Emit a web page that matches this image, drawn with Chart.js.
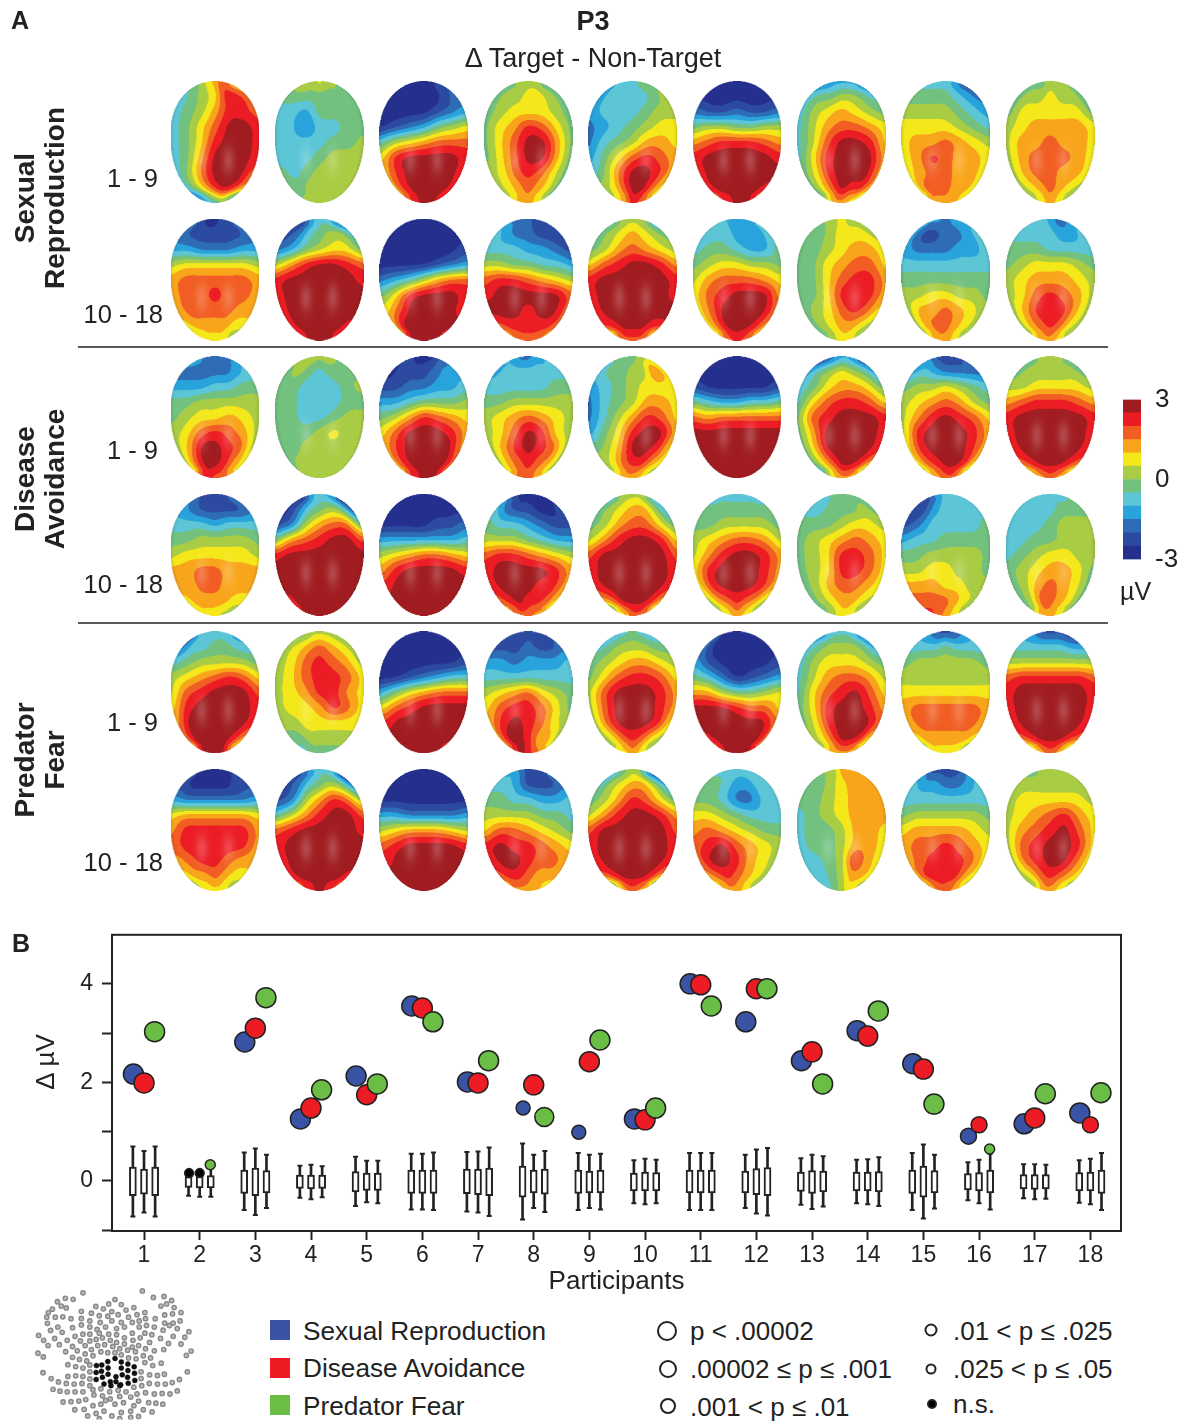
<!DOCTYPE html>
<html>
<head>
<meta charset="utf-8">
<title>P3</title>
<script src="https://cdn.jsdelivr.net/npm/chart.js@4"></script>
<style>
    html, body { margin: 0; padding: 0; background: #fff; }
    body { position: relative; width: 1177px; height: 1425px; overflow: hidden; font-family: "Liberation Sans", Arial, sans-serif; color: #222; }
    canvas { position: absolute; }
    .t { position: absolute; white-space: nowrap; line-height: 1; }
    .b { font-weight: bold; }
    .rot { transform: translate(-50%, -50%) rotate(-90deg); text-align: center; line-height: 30px; font-weight: bold; font-size: 28px; }
    .sw { position: absolute; width: 20px; height: 20px; }
    .dot { position: absolute; border-radius: 50%; box-sizing: border-box; border: 2px solid #222; transform: translate(-50%, -50%); background: #fff; }
</style>
</head>
<body>
<canvas id="topo" width="1177" height="920" style="left:0;top:0"></canvas>
<canvas id="bar" width="77" height="203" style="left:1100px;top:378px"></canvas>
<canvas id="stats" width="1177" height="385" style="left:0;top:912px"></canvas>
<canvas id="sensors" width="190" height="145" style="left:20px;top:1280px"></canvas>

<div class="t b" style="left:11px;top:8px;font-size:25px">A</div>
<div class="t b" style="left:12px;top:931px;font-size:25px">B</div>
<div class="t b" style="left:593px;top:8px;font-size:27px;transform:translateX(-50%)">P3</div>
<div class="t" style="left:593px;top:45px;font-size:27px;transform:translateX(-50%)">Δ Target - Non-Target</div>

<div class="t rot" style="left:40px;top:198px">Sexual<br>Reproduction</div>
<div class="t rot" style="left:40px;top:479px">Disease<br>Avoidance</div>
<div class="t rot" style="left:40px;top:760px">Predator<br>Fear</div>

<div class="t" style="right:1019px;top:166px;font-size:25.5px">1 - 9</div>
<div class="t" style="right:1014px;top:302px;font-size:25.5px">10 - 18</div>
<div class="t" style="right:1019px;top:438px;font-size:25.5px">1 - 9</div>
<div class="t" style="right:1014px;top:572px;font-size:25.5px">10 - 18</div>
<div class="t" style="right:1019px;top:710px;font-size:25.5px">1 - 9</div>
<div class="t" style="right:1014px;top:850px;font-size:25.5px">10 - 18</div>
<div class="t" style="left:1120px;top:579px;font-size:25px">µV</div>
<div class="t" style="left:45px;top:1062px;font-size:26px;transform:translate(-50%,-50%) rotate(-90deg)">Δ µV</div>

<div class="sw" style="left:270px;top:1320px;background:#3a53a4"></div>
<div class="sw" style="left:270px;top:1358px;background:#ed1c24"></div>
<div class="sw" style="left:270px;top:1395px;background:#6abd45"></div>
<div class="t" style="left:303px;top:1318px;font-size:26.2px">Sexual Reproduction</div>
<div class="t" style="left:303px;top:1355px;font-size:26.2px">Disease Avoidance</div>
<div class="t" style="left:303px;top:1393px;font-size:26.2px">Predator Fear</div>

<div class="dot" style="left:667px;top:1331px;width:20px;height:20px"></div>
<div class="dot" style="left:668px;top:1369px;width:18px;height:18px"></div>
<div class="dot" style="left:668px;top:1406px;width:16px;height:16px"></div>
<div class="dot" style="left:931px;top:1330px;width:13px;height:13px"></div>
<div class="dot" style="left:931px;top:1369px;width:11px;height:11px"></div>
<div class="dot" style="left:932px;top:1404px;width:10px;height:10px;background:#000"></div>
<div class="t" style="left:690px;top:1318px;font-size:26px">p &lt; .00002</div>
<div class="t" style="left:690px;top:1356px;font-size:26px">.00002 ≤ p ≤ .001</div>
<div class="t" style="left:690px;top:1394px;font-size:26px">.001 &lt; p ≤ .01</div>
<div class="t" style="left:953px;top:1318px;font-size:26px">.01 &lt; p ≤ .025</div>
<div class="t" style="left:953px;top:1356px;font-size:26px">.025 &lt; p ≤ .05</div>
<div class="t" style="left:953px;top:1391px;font-size:26px">n.s.</div>

<script>
// scalp maps: one string per head, 9 rows top to bottom, 7 columns left to right.
// each character is the colour bar band at that spot, 0 = -3 uV ... b = +3 uV
const sexualTop = [
    '5678987 4567aa9 4568aa9 4579bba 457abba 458bbba 469bbb9 468aba8 1134531',
    '6767665 5555555 4435555 4424455 4444556 4445666 5456666 5566666 5666666',
    '0000011 0000012 0000123 0123567 4678999 7abbbba 8abbbba 8abbbba 89abba9',
    '5566655 5667765 5677765 578a975 579bb85 579bb85 679a975 6789875 6788765',
    '3444555 3444456 3444566 2345677 2456887 3579a98 469bba8 679bb97 678a987',
    '1000001 0000000 2112112 5665566 89aaa98 abbbbba abbbbbb abbbbba 89abba8',
    '2233332 4556654 4678765 4689987 469bba7 47abbb8 57abbb8 579baa8 4688765',
    '4444322 5555432 6666543 7777654 7889876 78a9887 7899887 7999887 6888876',
    '5556665 5667665 5777775 6788887 6889887 6899987 6899887 6789876 5678765'
];
const sexualBottom = [
    '2100112 2111112 3322233 6777776 8999998 899a998 8999988 7888877 6677765',
    '1134421 1245664 2356775 68abba9 abbbbba abbbbbb abbbbbb abbbbba 9abbba9',
    '0000000 0000000 0000001 0000123 2346899 57abbba 79bbbba 8bbbbbb 8abbbb9',
    '3222111 4322111 4443321 6655443 9aa9876 abbbbb9 bbbabb9 9aaaaa9 7899987',
    '4566653 5678765 5689876 79abba8 abbbbba abbbbba abbbbbb aabbbaa 3899984',
    '4433334 4443334 4554335 5677665 6899987 79abbb8 79bbbb9 79bbba8 689a987',
    '5667665 5567776 5567887 5578997 5579aa8 557aaa8 5679a97 5678876 5567765',
    '3332333 3112234 3222334 4444444 5555555 6677665 6889876 6899876 6788765',
    '4443223 4444334 5554444 5677765 6788876 679a986 68aaa86 689a976 5788765'
];
const diseaseTop = [
    '4322223 2222234 3334455 5566666 5677876 679a986 68bba96 69bba87 79a9987',
    '6666665 5654555 5544456 5544455 5544566 5556766 5566666 5666666 6666666',
    '1100012 0111233 1122334 3345556 568a987 79bbba8 8abbbb8 8abbbb9 79abba8',
    '4322334 3444444 4444455 5566666 6789876 679ba76 68aba96 689a986 7899876',
    '4555666 4556697 3456777 2456887 2468a97 357abb8 568bba7 679aa87 6788765',
    '0000000 0000000 1000001 5433445 9899999 bbbbbbb bbbbbbb bbbbbbb abbbbba',
    '1123321 3567653 4578875 479aa97 59abbba 58bbbba 58bbbba 579bba8 2578873',
    '3211112 3432222 5667654 6789865 68aba97 6abbba8 7abbba8 79abba7 5789975',
    '4566654 5666665 6677776 89aaa98 abbbbba abbbbba abbbbba 9abbba9 5789874'
];
const diseaseBottom = [
    '2111123 3211112 4443444 5566665 6777776 8899888 8899888 7888877 6777665',
    '1134321 0245651 1268995 589abb9 abbbbbb bbbbbbb bbbbbbb abbbbbb abbbbba',
    '0000000 0000000 0000112 3333334 6789987 8abbbba abbbbbb bbbbbbb bbbbbbb',
    '2100000 4211001 5443211 6665433 9aa9876 abbbba8 abbbaa8 9abaa97 7899886',
    '3566654 5678863 5689975 68abba7 9bbbbb9 abbbbba abbbbba 89bbba8 2679985',
    '3444443 5555555 5566665 6789986 68abba8 7abbba8 7abbba8 689a986 5678765',
    '4455555 4455565 5556776 5678987 567aa97 567aa97 5689987 5678876 5567765',
    '1234444 1134444 1244445 3445555 5566665 6677665 8887766 9999876 aa98765',
    '4444445 4444555 4445666 4455666 4567766 5678875 5689875 5699875 5788765'
];
const predatorTop = [
    '2444442 2445544 4566665 6789a97 69abbb9 7abbbba 8bbbbba 9bbbba8 6abbb86',
    '5566665 6789876 679a986 679aa97 678aa87 6778a97 6677777 5566666 4455555',
    '0000000 0000000 0000001 0012344 3578999 79abbbb abbbbbb bbbbbbb bbbbbb9',
    '1111111 1112112 3323334 4444444 6789765 79aa975 8aba976 8bba886 89ba987',
    '3445443 4566655 5678876 579aa97 69bbba8 69bbba8 69bbba7 679a976 5778765',
    '2000001 2000000 3100001 5420123 8865567 bbba997 bbbbbb9 abbbbb9 8abbba8',
    '2344432 4566653 4677765 4689986 479ab97 57abba8 57abbb9 679bba7 5788875',
    '3211123 4445444 5666665 6666666 7777777 8999998 8999998 7888887 5777765',
    '3211110 4444433 6666666 9aaaaa9 abbbbba abbbbba abbbbba 9abbba9 4689864'
];
const predatorBottom = [
    '1000001 1000011 3222223 7888887 8aaaaa8 9aaaaa8 89aa988 7889877 5677765',
    '1234431 1245652 1268a96 468abb9 9abbbba abbbbbb abbbbbb abbbbba 89aba98',
    '0000000 0000000 0000000 3322223 6788876 9abbbba abbbbbb bbbbbbb bbbbbbb',
    '3321112 4431112 5544334 6666554 7998765 abaa987 abba998 9aa9888 7888876',
    '3456521 4678863 568a975 68abba8 9bbbbb9 abbbbba abbbbba 9abbba8 2589872',
    '4444444 5543344 5542244 7765444 8987655 9ab9876 9bba876 89a9876 6788765',
    '5668887 5567888 5567888 4567888 4556887 4556887 4456a87 4456887 4456765',
    '2111112 4332234 4444444 5666665 7888876 899a987 89aaa97 8aaaa87 6799875',
    '5566666 6666666 6777776 6789a87 689ab97 69abba7 69abb97 679a987 5688765'
];
const topoRows = [sexualTop, sexualBottom, diseaseTop, diseaseBottom, predatorTop, predatorBottom];

// colour bar, bottom to top
const bandEdges = [-3, -2.5, -2, -1.5, -1, -0.5, 0, 0.5, 1, 1.5, 2, 2.5, 3];
const bandColors = ['#25308e', '#2b4aa0', '#2f6cb6', '#29a3dc', '#5cc6d6', '#72c17f', '#a9cc45', '#f4e71a', '#f9a51b', '#f15d22', '#ec1c24', '#a01c20'];

// panel B
const participants = [1, 2, 3, 4, 5, 6, 7, 8, 9, 10, 11, 12, 13, 14, 15, 16, 17, 18];
const sexualDelta = [2.17, 0.16, 2.82, 1.26, 2.13, 3.55, 2.01, 1.48, 0.99, 1.26, 4.00, 3.23, 2.44, 3.05, 2.38, 0.91, 1.16, 1.38];
const diseaseDelta = [1.99, 0.16, 3.10, 1.48, 1.75, 3.51, 1.99, 1.95, 2.42, 1.24, 3.98, 3.90, 2.62, 2.94, 2.27, 1.14, 1.28, 1.14];
const predatorDelta = [3.03, 0.33, 3.72, 1.85, 1.97, 3.23, 2.44, 1.30, 2.86, 1.48, 3.55, 3.90, 1.97, 3.45, 1.56, 0.65, 1.77, 1.79];
// significance class: 0 p<.00002, 1, 2, 3, 4 .025<p<=.05, 5 n.s.
const sexualSig = [0, 5, 0, 0, 0, 0, 0, 3, 3, 0, 0, 0, 0, 0, 0, 2, 0, 0];
const diseaseSig = [0, 5, 0, 0, 0, 0, 0, 0, 0, 0, 0, 0, 0, 0, 0, 2, 0, 2];
const predatorSig = [0, 4, 0, 0, 0, 0, 0, 1, 0, 0, 0, 0, 0, 0, 0, 4, 0, 0];
const sigRadius = [10, 9.5, 8, 7, 5, 4.5];

// permutation distributions: whisker low, box low, box high, whisker high
const sexualLow = [-.72, -.30, -.59, -.34, -.51, -.58, -.62, -.78, -.59, -.45, -.59, -.55, -.48, -.45, -.59, -.39, -.35, -.44];
const sexualQ1 = [-.30, -.13, -.25, -.15, -.22, -.25, -.26, -.33, -.25, -.20, -.24, -.24, -.21, -.20, -.25, -.18, -.16, -.20];
const sexualQ3 = [.28, .09, .22, .12, .19, .22, .24, .30, .22, .16, .22, .20, .18, .18, .22, .15, .13, .17];
const sexualHigh = [.70, .16, .58, .31, .49, .55, .59, .76, .57, .42, .57, .53, .46, .43, .57, .38, .34, .42];
const diseaseLow = [-.64, -.32, -.69, -.37, -.43, -.58, -.64, -.55, -.55, -.47, -.59, -.66, -.57, -.47, -.76, -.45, -.37, -.47];
const diseaseQ1 = [-.27, -.14, -.30, -.16, -.19, -.25, -.28, -.24, -.24, -.20, -.24, -.28, -.25, -.20, -.33, -.20, -.17, -.20];
const diseaseQ3 = [.24, .12, .26, .12, .16, .22, .24, .22, .20, .18, .22, .25, .21, .18, .30, .17, .13, .18];
const diseaseHigh = [.61, .16, .66, .33, .41, .55, .60, .53, .53, .45, .57, .64, .53, .44, .74, .43, .34, .45];
const predatorLow = [-.72, -.32, -.55, -.33, -.45, -.59, -.71, -.63, -.58, -.45, -.59, -.70, -.52, -.51, -.56, -.58, -.36, -.59];
const predatorQ1 = [-.30, -.14, -.24, -.15, -.19, -.25, -.30, -.27, -.24, -.20, -.24, -.30, -.22, -.22, -.24, -.24, -.16, -.25];
const predatorQ3 = [.28, .11, .21, .12, .16, .22, .26, .24, .22, .17, .22, .27, .20, .19, .21, .22, .13, .22];
const predatorHigh = [.70, .30, .53, .30, .41, .58, .68, .61, .55, .43, .57, .67, .50, .48, .53, .55, .33, .57];

// electrode layout
const greyElectrodes = [[183,24],[372,18],[407,39],[441,36],[127,42],[152,45],[102,53],[465,49],[114,67],[130,73],[86,77],[431,67],[449,60],[473,72],[285,46],[265,60],[305,62],[224,68],[248,76],[178,84],[320,80],[345,72],[275,85],[380,88],[73,88],[443,96],[468,92],[495,88],[68,103],[95,103],[119,102],[145,108],[178,107],[210,90],[235,98],[262,100],[295,95],[328,103],[355,95],[413,108],[443,122],[470,122],[492,115],[70,123],[103,135],[80,146],[117,152],[150,137],[178,128],[205,115],[238,120],[275,115],[305,120],[340,120],[362,115],[382,108],[410,135],[458,130],[483,140],[520,150],[42,162],[58,178],[93,172],[72,195],[108,192],[133,178],[158,165],[183,158],[205,135],[228,143],[255,135],[290,140],[315,135],[362,135],[385,130],[402,160],[438,145],[470,165],[507,168],[40,220],[57,232],[128,215],[150,198],[175,180],[205,158],[235,155],[265,158],[290,160],[315,170],[340,155],[380,155],[430,172],[455,188],[495,190],[527,213],[512,227],[205,180],[190,195],[225,175],[245,170],[270,178],[290,185],[315,190],[342,178],[365,170],[395,185],[440,208],[410,212],[382,205],[360,195],[340,200],[165,212],[190,222],[210,208],[230,195],[252,192],[278,198],[300,205],[325,210],[350,215],[375,228],[398,235],[432,252],[405,260],[380,250],[150,233],[172,240],[195,245],[215,228],[240,215],[262,218],[285,218],[305,225],[328,235],[352,238],[135,257],[160,263],[183,268],[205,258],[56,283],[515,280],[82,302],[490,305],[105,313],[130,318],[155,320],[180,318],[135,295],[160,293],[183,295],[205,280],[205,303],[205,325],[368,280],[395,290],[420,292],[442,288],[368,302],[394,318],[420,320],[445,320],[467,315],[370,325],[345,330],[88,337],[110,343],[133,345],[158,345],[183,345],[215,338],[240,335],[268,345],[295,340],[320,345],[355,352],[382,348],[410,352],[435,350],[460,352],[483,342],[120,378],[145,377],[170,375],[192,370],[218,355],[245,358],[270,368],[300,360],[335,362],[360,375],[392,380],[415,382],[437,385],[157,403],[187,402],[215,390],[240,385],[255,373],[285,385],[312,380],[345,390],[375,403],[403,410],[198,423],[225,415],[250,408],[275,423],[305,412],[335,408],[360,425],[235,432],[300,432],[335,428]];
const blackElectrodes = [[226,260],[243,258],[262,247],[285,237],[305,248],[326,255],[346,264],[225,282],[242,278],[263,268],[326,276],[305,268],[347,285],[225,305],[245,298],[263,288],[325,298],[308,290],[348,308],[250,320],[270,312],[288,296],[288,312],[303,322],[327,317],[272,325],[300,325]];

const separators = [1.49, 3.495];
const FONT = '"Liberation Sans", Arial, sans-serif';
const INK = '#222';

Chart.defaults.font.family = FONT;
Chart.defaults.color = INK;
Chart.defaults.animation = false;
Chart.defaults.plugins.legend.display = false;
Chart.defaults.plugins.tooltip.enabled = false;
Chart.defaults.events = [];

function hexRgb(hex) {
    return [1, 3, 5].map(i => parseInt(hex.substr(i, 2), 16));
}

// half sharp spline, half smooth spline, so the contours stay round
function blend(a, b, c, d, t) {
    const sharp = 0.5 * (2 * b + (c - a) * t + (2 * a - 5 * b + 4 * c - d) * t * t + (3 * b - a - 3 * c + d) * t * t * t);
    const s = 1 - t;
    const smooth = (s * s * s * a + (3 * t * t * t - 6 * t * t + 4) * b + (-3 * t * t * t + 3 * t * t + 3 * t + 1) * c + t * t * t * d) / 6;
    return 0.5 * sharp + 0.5 * smooth;
}

function sampleGrid(grid, gx, gy) {
    const rows = grid.length, cols = grid[0].length;
    const ix = Math.min(Math.floor(gx), cols - 2), iy = Math.min(Math.floor(gy), rows - 2);
    const fx = gx - ix, fy = gy - iy;
    const column = [];
    for (let r = iy - 1; r <= iy + 2; r++) {
        const row = grid[Math.max(0, Math.min(rows - 1, r))];
        const at = i => row[Math.max(0, Math.min(cols - 1, i))];
        column.push(blend(at(ix - 1), at(ix), at(ix + 1), at(ix + 2), fx));
    }
    return blend(column[0], column[1], column[2], column[3], fy);
}

// filled contour map of one head, painted at twice the size and scaled down
function paintHead(ctx, grid, cx, cy, halfW, halfH) {
    const w = Math.ceil(halfW * 4), h = Math.ceil(halfH * 4);
    const off = document.createElement('canvas');
    off.width = w;
    off.height = h;
    const octx = off.getContext('2d');
    const img = octx.createImageData(w, h);
    const rgb = bandColors.map(hexRgb);
    for (let py = 0; py < h; py++) {
        const v = (py + 0.5) / h * 2 - 1;
        const edge = Math.sqrt(Math.max(0, 1 - Math.pow(Math.abs(v), 2.2))) * (1 - 0.08 * v);
        const mapEdge = Math.max(edge, 0.5);
        for (let px = 0; px < w; px++) {
            const u = (px + 0.5) / w * 2 - 1;
            if (Math.abs(u) > edge) continue;
            const gx = Math.max(0, Math.min(6, (u / mapEdge + 1) * 3));
            const gy = (v + 1) * 4;
            const band = Math.max(0, Math.min(11, Math.round(sampleGrid(grid, gx, gy))));
            const rim = Math.sqrt(Math.max(0, 1 - (u / edge) * (u / edge)));
            const shade = 0.82 + 0.18 * Math.min(1, rim * 2.5);
            const glint = 0.2 * (Math.exp(-((u - 0.3) * (u - 0.3) / 0.018 + (v - 0.3) * (v - 0.3) / 0.05))
                + Math.exp(-((u + 0.3) * (u + 0.3) / 0.018 + (v - 0.3) * (v - 0.3) / 0.05)));
            const i = (py * w + px) * 4;
            for (let k = 0; k < 3; k++) {
                img.data[i + k] = rgb[band][k] * shade * (1 - glint) + 255 * glint;
            }
            img.data[i + 3] = 255;
        }
    }
    octx.putImageData(img, 0, 0);
    ctx.save();
    ctx.imageSmoothingEnabled = true;
    ctx.imageSmoothingQuality = 'high';
    ctx.filter = 'blur(0.6px)';
    ctx.drawImage(off, cx - halfW, cy - halfH, halfW * 2, halfH * 2);
    ctx.restore();
}

const headsPlugin = {
    id: 'heads',
    afterDatasetsDraw(chart) {
        const meta = chart.getDatasetMeta(0);
        const x = chart.scales.x, y = chart.scales.y;
        const halfW = Math.abs(x.getPixelForValue(0.426) - x.getPixelForValue(0));
        const halfH = Math.abs(y.getPixelForValue(0.443) - y.getPixelForValue(0));
        meta.data.forEach((pt, i) => {
            paintHead(chart.ctx, chart.data.datasets[0].data[i].levels, pt.x, pt.y, halfW, halfH);
        });
    }
};

const headPoints = [];
topoRows.forEach((row, r) => {
    row.forEach((text, c) => {
        headPoints.push({
            x: c + 1,
            y: r,
            levels: text.split(' ').map(line => line.split('').map(ch => parseInt(ch, 16)))
        });
    });
});

const sepDatasets = separators.map(value => ({
    type: 'line',
    data: [{ x: -0.312, y: value }, { x: 9.553, y: value }],
    borderColor: INK,
    borderWidth: 1.5,
    pointRadius: 0
}));

new Chart(document.getElementById('topo'), {
    type: 'scatter',
    data: { datasets: [{ data: headPoints, pointRadius: 0 }].concat(sepDatasets) },
    options: {
        responsive: false,
        layout: { padding: 0 },
        scales: {
            x: { type: 'linear', display: false, min: 1 - 215 / 104.4, max: 1 + 962 / 104.4 },
            y: { type: 'linear', display: false, reverse: true, min: -142 / 137.6, max: 778 / 137.6 }
        }
    },
    plugins: [headsPlugin]
});

new Chart(document.getElementById('bar'), {
    type: 'bar',
    data: {
        labels: ['uV'],
        datasets: bandColors.map((color, i) => ({
            data: [[bandEdges[i], bandEdges[i + 1]]],
            backgroundColor: color,
            grouped: false,
            barPercentage: 1,
            categoryPercentage: 1
        }))
    },
    options: {
        responsive: false,
        layout: { padding: { left: 23, top: 9, bottom: 10 } },
        scales: {
            x: { display: false },
            y: {
                position: 'right',
                min: -3,
                max: 3,
                afterBuildTicks: axis => { axis.ticks = [{ value: -3 }, { value: 0 }, { value: 3 }]; },
                afterFit: axis => { axis.width = 36; },
                grid: { display: false },
                border: { display: false },
                ticks: { font: { size: 26 }, padding: 6, color: INK }
            }
        }
    }
});

function seriesDatasets(low, q1, q3, high, offset, layer) {
    const xs = participants.map(p => p + offset);
    return [
        {
            type: 'bar',
            data: xs.map((x, i) => ({ x: x, y: [q1[i], q3[i]] })),
            backgroundColor: '#fff',
            borderColor: INK,
            borderWidth: 2,
            borderSkipped: false,
            barThickness: 7,
            grouped: false,
            order: 10 + layer
        },
        {
            type: 'bar',
            data: xs.map((x, i) => ({ x: x, y: [low[i], high[i]] })),
            backgroundColor: INK,
            barThickness: 2,
            grouped: false,
            order: 20 + layer
        },
        {
            type: 'scatter',
            data: xs.map((x, i) => ({ x: x, y: low[i] })).concat(xs.map((x, i) => ({ x: x, y: high[i] }))),
            pointStyle: 'line',
            pointRadius: 2.5,
            pointBorderColor: INK,
            pointBorderWidth: 2,
            order: 20 + layer
        }
    ];
}

function dotDataset(values, sig, color, offset, layer) {
    return {
        type: 'scatter',
        data: participants.map((p, i) => ({ x: p + offset, y: values[i] })),
        pointRadius: sig.map(s => sigRadius[s]),
        pointBackgroundColor: sig.map(s => s === 5 ? '#000' : color),
        pointBorderColor: INK,
        pointBorderWidth: 1.5,
        clip: false,
        order: layer
    };
}

const framePlugin = {
    id: 'frame',
    beforeDatasetsDraw(chart) {
        const a = chart.chartArea;
        chart.ctx.save();
        chart.ctx.strokeStyle = INK;
        chart.ctx.lineWidth = 2;
        chart.ctx.strokeRect(a.left, a.top, a.right - a.left, a.bottom - a.top);
        chart.ctx.restore();
    }
};

new Chart(document.getElementById('stats'), {
    type: 'scatter',
    data: {
        datasets: [
            dotDataset(sexualDelta, sexualSig, '#3a53a4', -0.19, 3),
            dotDataset(diseaseDelta, diseaseSig, '#ed1c24', 0, 2),
            dotDataset(predatorDelta, predatorSig, '#6abd45', 0.19, 1)
        ].concat(
            seriesDatasets(sexualLow, sexualQ1, sexualQ3, sexualHigh, -0.2, 0),
            seriesDatasets(diseaseLow, diseaseQ1, diseaseQ3, diseaseHigh, 0, 1),
            seriesDatasets(predatorLow, predatorQ1, predatorQ3, predatorHigh, 0.2, 2)
        )
    },
    options: {
        responsive: false,
        layout: { padding: { top: 12, right: 56 } },
        scales: {
            x: {
                type: 'linear',
                offset: false,
                min: 0.425,
                max: 18.55,
                afterBuildTicks: axis => { axis.ticks = participants.map(p => ({ value: p })); },
                grid: { offset: false, drawOnChartArea: false, tickLength: 9, tickWidth: 2, color: INK },
                border: { display: false },
                ticks: { font: { size: 23 }, color: INK, padding: 2, maxRotation: 0, autoSkip: false },
                title: { display: true, text: 'Participants', font: { size: 26 }, color: INK, padding: { top: 0, bottom: 0 } },
                afterFit: axis => { axis.height = 66; }
            },
            y: {
                type: 'linear',
                min: -1.015,
                max: 4.995,
                afterBuildTicks: axis => { axis.ticks = [-1, 0, 1, 2, 3, 4].map(v => ({ value: v })); },
                grid: { drawOnChartArea: false, tickLength: 10, tickWidth: 2, color: INK },
                border: { display: false },
                ticks: {
                    font: { size: 23 },
                    color: INK,
                    padding: 9,
                    callback: value => (value >= 0 && value % 2 === 0) ? String(value) : ''
                },
                afterFit: axis => { axis.width = 112; }
            }
        }
    },
    plugins: [framePlugin]
});

new Chart(document.getElementById('sensors'), {
    type: 'scatter',
    data: {
        datasets: [
            {
                data: greyElectrodes.map(p => ({ x: p[0], y: p[1] })),
                pointRadius: 2.2,
                pointBackgroundColor: '#bbb',
                pointBorderColor: '#888',
                pointBorderWidth: 1.4
            },
            {
                data: blackElectrodes.map(p => ({ x: p[0], y: p[1] })),
                pointRadius: 2.5,
                pointBackgroundColor: '#111',
                pointBorderColor: '#111',
                pointBorderWidth: 0.5
            }
        ]
    },
    options: {
        responsive: false,
        scales: {
            x: { type: 'linear', display: false, min: 0, max: 570 },
            y: { type: 'linear', display: false, reverse: true, min: 0, max: 435 }
        }
    }
});
</script>
</body>
</html>
